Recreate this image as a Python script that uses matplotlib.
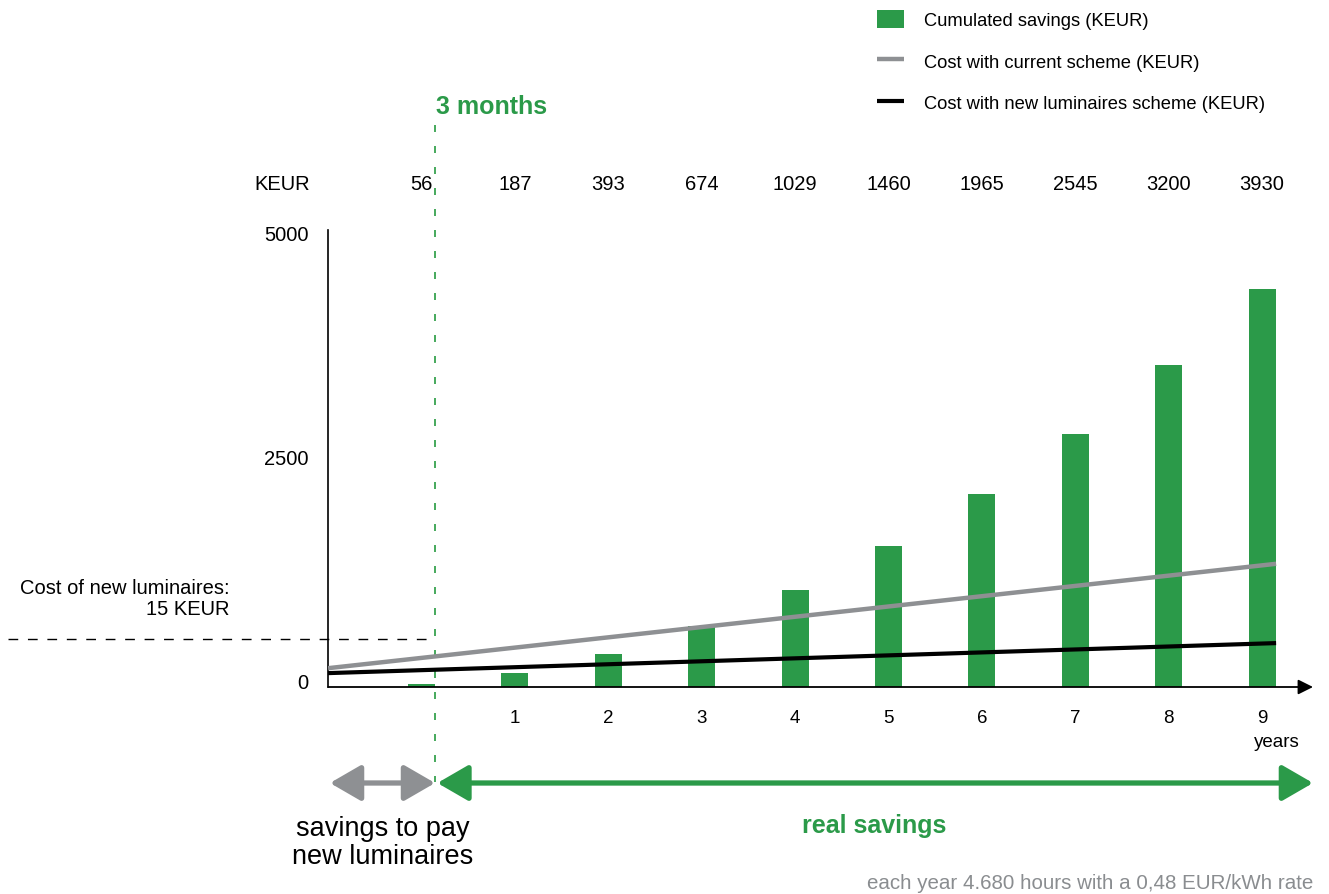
import matplotlib
matplotlib.use("Agg")
import matplotlib.pyplot as plt
from matplotlib.transforms import blended_transform_factory, ScaledTranslation

plt.rcParams['font.family'] = ['Liberation Sans', 'DejaVu Sans']

# ---------------- data ----------------
years = [0, 1, 2, 3, 4, 5, 6, 7, 8, 9]
savings_bars = [35, 155, 370, 680, 1085, 1575, 2155, 2825, 3595, 4440]   # bar heights as drawn
savings_labels = ["56", "187", "393", "674", "1029", "1460", "1965", "2545", "3200", "3930"]
line_x = [-1, 9.15]
current_cost = [210, 1375]
new_cost = [155, 490]
luminaires_cost = 535
payback_x = 0.145
year_ticks = [1, 2, 3, 4, 5, 6, 7, 8, 9]
y_ticks = [0, 2500, 5000]

GREEN = '#2b9a49'
GREEN_DASH = '#45a95c'
GRAY = '#8e9093'
GRAY_TXT = '#8a8d90'

W, H = 1329, 895
fig = plt.figure(figsize=(W / 100, H / 100), dpi=100)

# axes placement in pixels: x=-1 -> 328.1, 1 unit = 93.4 px ; y=0 -> 688, 1 unit = 0.0896 px
x0, x1 = -1, 9.6
y0, y1 = 0, 5100
px_left = 421.5 + 93.4 * x0
px_right = 421.5 + 93.4 * x1
px_bottom = 688
px_top = 688 - 0.0896 * y1
ax = fig.add_axes([px_left / W, 1 - px_bottom / H, (px_right - px_left) / W, (px_bottom - px_top) / H])
ax.set_xlim(x0, x1)
ax.set_ylim(y0, y1)
for s in ['top', 'right', 'bottom']:
    ax.spines[s].set_visible(False)
ax.spines['left'].set_linewidth(1.2)

# bars & lines
ax.bar(years, savings_bars, width=0.29, color=GREEN, label='Cumulated savings (KEUR)', zorder=2)
ax.plot(line_x, current_cost, color=GRAY, lw=3.2, label='Cost with current scheme (KEUR)', zorder=3,
        solid_capstyle='butt')
ax.plot(line_x, new_cost, color='black', lw=3.0, label='Cost with new luminaires scheme (KEUR)', zorder=3,
        solid_capstyle='butt')

# x axis with arrow
ax.annotate('', xy=(9.545, 0), xytext=(x0, 0), annotation_clip=False,
            arrowprops=dict(arrowstyle='-|>,head_length=0.6,head_width=0.3', lw=1.3, color='black',
                            mutation_scale=15, shrinkA=0, shrinkB=0), zorder=4)

# ticks
ax.set_xticks(year_ticks)
ax.set_xticklabels([str(t) for t in year_ticks], fontsize=13.5)
ax.tick_params(axis='x', length=0, pad=16)
ax.set_yticks(y_ticks)
ax.set_yticklabels([str(t) for t in y_ticks], fontsize=14.5)
ax.tick_params(axis='y', length=0, pad=14)
shift = ScaledTranslation(0, 5 / 72, fig.dpi_scale_trans)
for lab in ax.get_yticklabels():
    lab.set_transform(lab.get_transform() + shift)

# dashed green payback line
ax.plot([payback_x, payback_x], [6270, -1060], color=GREEN_DASH, lw=1.4,
        linestyle=(0, (3.6, 7.2)), clip_on=False, zorder=1)
# dashed black cost line
ax.plot([-4.43, 0.08], [luminaires_cost, luminaires_cost], color='black', lw=1.0,
        linestyle=(0, (7, 7)), clip_on=False, zorder=1)

# bottom double arrows
arrow_y = (688 - 784) / 0.0896
ax.annotate('', xy=(-0.98, arrow_y), xytext=(payback_x, arrow_y), annotation_clip=False,
            arrowprops=dict(arrowstyle='<|-|>,head_length=0.95,head_width=0.55', lw=3.8, color=GRAY,
                            mutation_scale=20, shrinkA=0, shrinkB=0))
ax.annotate('', xy=(9.545, arrow_y), xytext=(0.17, arrow_y), annotation_clip=False,
            arrowprops=dict(arrowstyle='<|-|>,head_length=0.95,head_width=0.55', lw=3.8, color=GREEN,
                            mutation_scale=20, shrinkA=0, shrinkB=0))

# top value labels
trans = blended_transform_factory(ax.transData, fig.transFigure)
for x, lab in zip(years, savings_labels):
    ax.text(x, 1 - 184 / H, lab, transform=trans, ha='center', va='center', fontsize=14.5)


def ftext(x, y, s, **kw):
    fig.text(x / W, 1 - y / H, s, **kw)


ftext(282.5, 184, 'KEUR', ha='center', va='center', fontsize=14.5)
ftext(436, 107, '3 months', ha='left', va='center', fontsize=18, fontweight='bold', color=GREEN)
ftext(230, 599, 'Cost of new luminaires:\n15 KEUR', ha='right', va='center', ma='right',
      fontsize=14.5, linespacing=1.15)
ftext(1277, 743, 'years', ha='center', va='center', fontsize=13.5)
ftext(383, 843, 'savings to pay\nnew luminaires', ha='center', va='center', ma='center',
      fontsize=19.5, linespacing=1.12)
ftext(874, 826, 'real savings', ha='center', va='center', fontsize=18, fontweight='bold', color=GREEN)
ftext(1313, 884, 'each year 4.680 hours with a 0,48 EUR/kWh rate', ha='right', va='center',
      fontsize=14.8, color=GRAY_TXT)

# legend (bars first)
handles, labels = ax.get_legend_handles_labels()
order = [labels.index('Cumulated savings (KEUR)'),
         labels.index('Cost with current scheme (KEUR)'),
         labels.index('Cost with new luminaires scheme (KEUR)')]
fig.legend([handles[i] for i in order], [labels[i] for i in order],
           loc='upper left', bbox_to_anchor=(877 / W, 1 - 11 / H), frameon=False, fontsize=13.2,
           borderpad=0, borderaxespad=0, handlelength=1.5, handleheight=1.17, handletextpad=1.05,
           labelspacing=1.2)

fig.savefig('out.png', dpi=100)
